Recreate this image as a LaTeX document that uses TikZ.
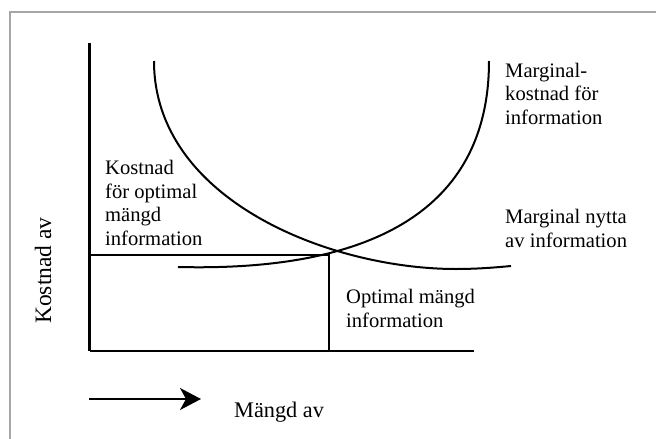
\documentclass[tikz,border=0pt]{standalone}
\usepackage{fontspec}
\setmainfont{Liberation Serif}
\usetikzlibrary{arrows.meta}
\definecolor{framegray}{HTML}{A6A6A6}
\begin{document}
\begin{tikzpicture}[x=1pt,y=-1pt,
  axis/.style={line width=2.3pt},
  curve/.style={line width=2pt},
  % multi-line labels: the base anchor sits on the last line's baseline
  lbl/.style={anchor=base west,align=left,inner sep=0pt,
    font=\fontsize{20.6}{23.5}\selectfont},
  ]
\useasboundingbox (0,0) rectangle (656,439);
% outer frame
\draw[framegray,line width=2pt] (9.5,440) -- (9.5,11.7) -- (657,11.7);

% axes and optimum lines
\coordinate (top) at (89.5,43);
\coordinate (orig) at (89.5,351);
\coordinate (xend) at (474,351);
\coordinate (cost) at (89.5,255);
\coordinate (opt) at (329,255);
\coordinate (optx) at (329,351);
\draw[axis] (top) -- (orig);
\draw[line width=2.7pt] (orig) -- (xend);
\draw[axis] (cost) -- (opt) -- (optx);

% marginal benefit curve (decreasing)
\coordinate (mb0) at (154,61);
\coordinate (mb1) at (456,269);
\coordinate (mb2) at (511,266);
\draw[curve] (mb0) .. controls (154,200) and (330,269) .. (mb1)
             .. controls (480,269) and (500,267) .. (mb2);

% marginal cost curve (increasing)
\coordinate (mc0) at (178,267);
\coordinate (mc1) at (489,61);
\draw[curve] (mc0) .. controls (300,270) and (489,250) .. (mc1);

% labels
\node[lbl] (mcl) at (505,124) {Marginal-\\kostnad för\\information};
\node[lbl] (mbl) at (505,247) {Marginal nytta\\av information};
\node[lbl] (kl) at (105,245) {Kostnad\\för optimal\\mängd\\information};
\node[lbl] (ol) at (346,327) {Optimal mängd\\information};
\node[anchor=base west,inner sep=0pt,font=\fontsize{22.3}{26}\selectfont]
  (xl) at (234,417) {Mängd av};
\node[anchor=base west,inner sep=0pt,rotate=90,font=\fontsize{23.5}{28}\selectfont]
  (yl) at (51,324) {Kostnad av};

% direction arrow
\coordinate (a0) at (89,399);
\coordinate (a1) at (201,399);
\draw[line width=2pt,-{Stealth[length=21pt,width=22pt,inset=6pt]}] (a0) -- (a1);
\end{tikzpicture}
\end{document}
